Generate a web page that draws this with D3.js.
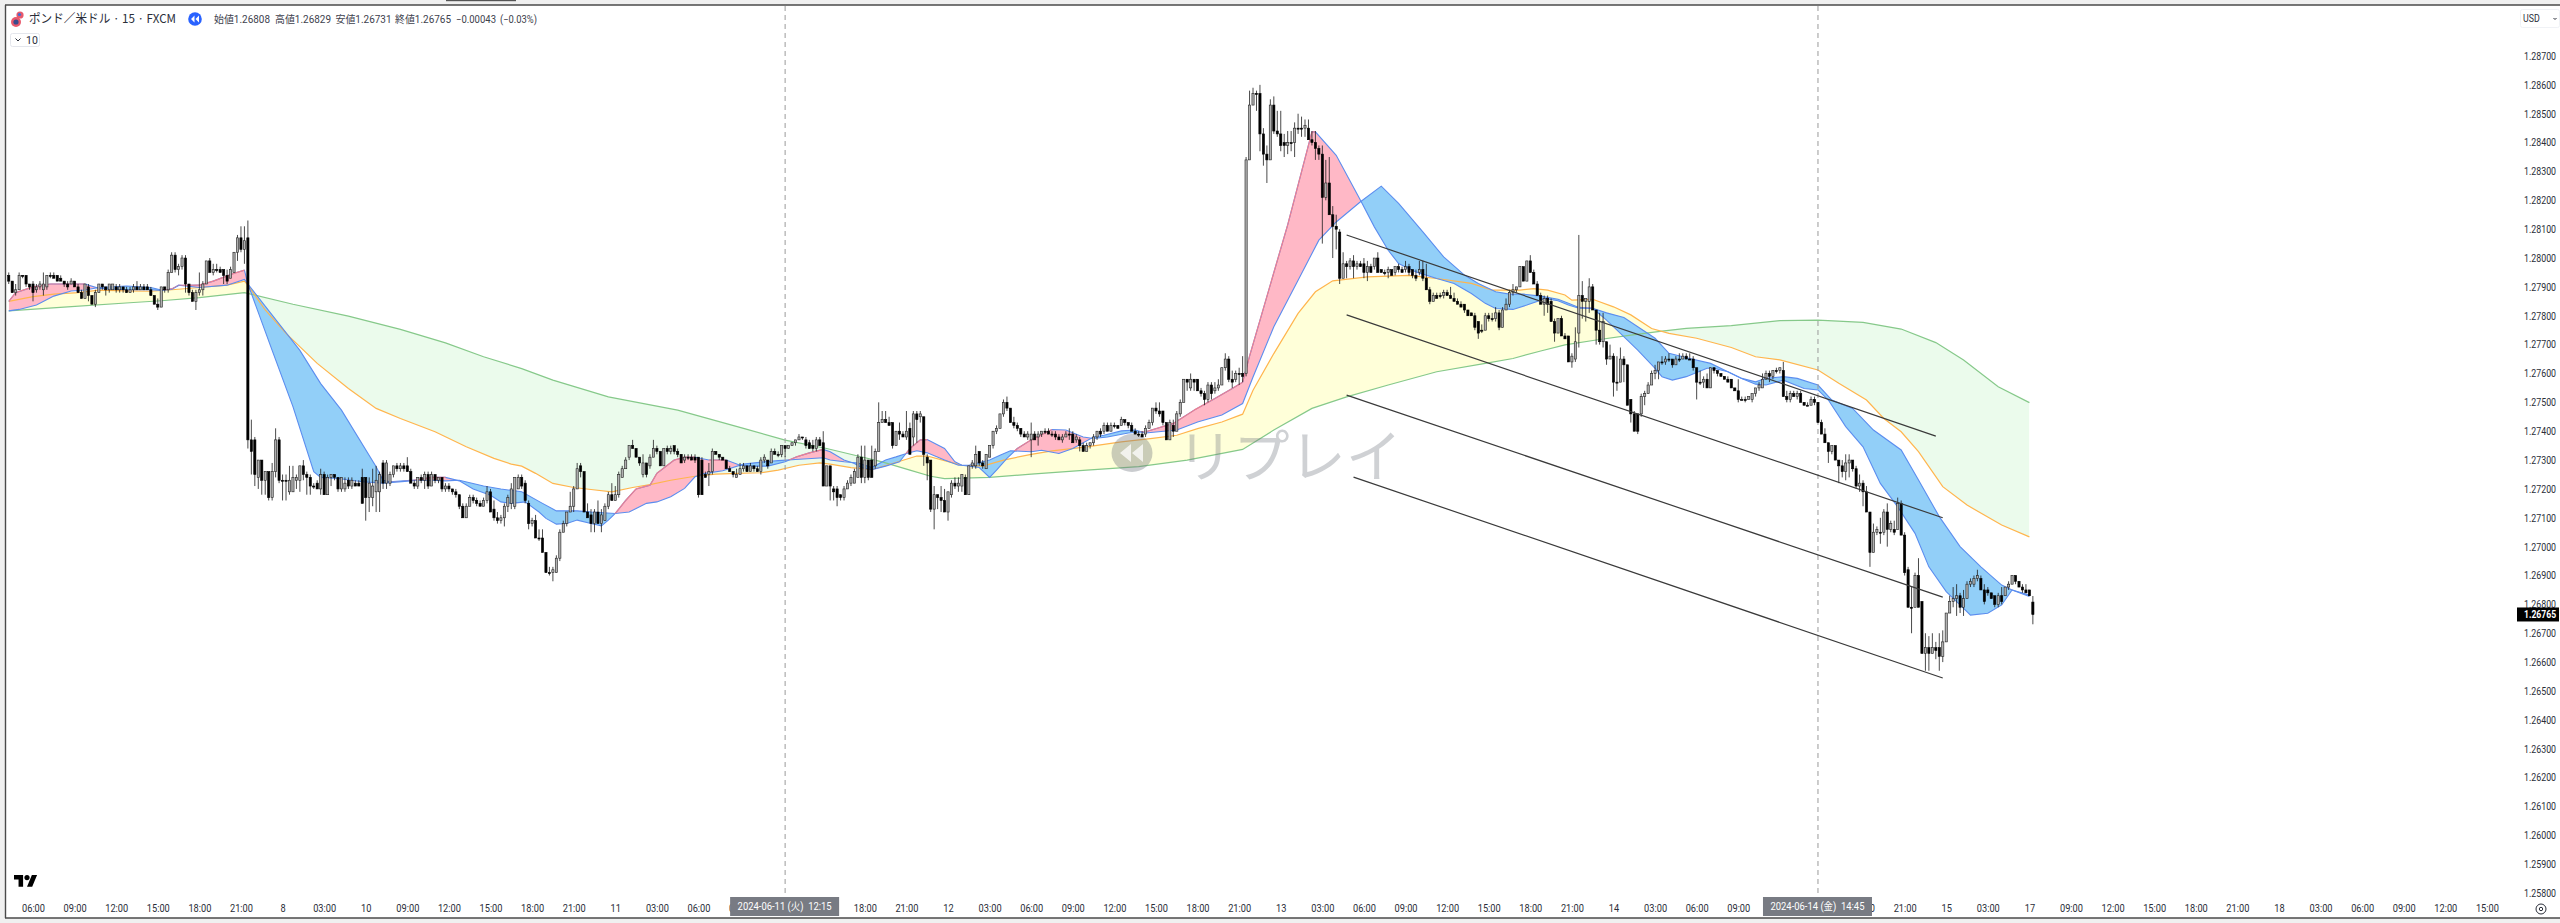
<!DOCTYPE html>
<html lang="ja"><head><meta charset="utf-8">
<script src="https://cdn.jsdelivr.net/npm/d3@7"></script>
<style>
html,body{margin:0;padding:0;background:#fff}
svg{display:block}
text{font-family:Roboto,"Noto Sans CJK JP",sans-serif;white-space:pre}
</style></head><body>
<div id="chart"></div>
<script>
// ---------- values: pips above 1.2600 (so 191 means 1.2791) ----------
const FIRST_BAR = -7;
const opens = [
194,192,188,189,194,194,191,191,189,190,189,190,194,194,194,193,192,191,191,192,
190,188,186,190,187,184,188,191,190,189,189,190,189,190,189,188,189,190,189,190,
190,189,187,184,183,190,189,195,201,196,197,200,191,188,185,188,189,191,199,195,
196,196,196,194,193,195,202,207,203,207,137,137,124,130,123,126,117,126,137,123,
123,119,119,123,123,128,125,124,121,122,120,125,118,124,125,124,120,120,123,121,
122,122,124,124,117,117,119,119,129,122,122,125,128,127,128,128,126,122,121,124,
123,125,121,125,123,124,120,121,120,119,118,114,110,114,117,116,115,114,116,119,
113,110,109,110,114,115,114,120,124,122,115,108,109,103,103,98,91,91,91,96,
105,108,112,114,120,128,126,112,111,108,112,108,109,114,118,116,118,124,127,131,
135,134,131,125,129,128,131,134,133,128,134,133,135,133,132,130,131,131,131,131,
130,125,125,126,133,132,131,130,127,126,124,125,127,128,126,128,127,126,130,130,
129,133,132,132,135,134,135,136,137,138,137,136,135,134,137,136,121,128,120,120,
118,117,120,122,122,124,131,124,130,130,128,133,143,144,143,143,135,140,139,138,
141,138,146,145,145,131,130,113,118,117,116,112,118,122,121,121,124,118,128,128,
133,129,127,131,135,140,141,146,150,148,143,142,141,139,138,137,139,138,139,140,
140,139,139,138,137,138,139,139,137,137,135,133,135,136,138,140,140,142,140,142,
142,142,144,143,142,140,139,139,139,141,143,148,147,147,143,137,142,140,146,150,
158,155,158,158,154,153,151,156,154,155,156,162,165,158,158,160,160,160,234,253,
257,257,243,236,234,253,244,243,240,239,240,240,245,245,245,245,241,240,238,236,
221,226,215,211,209,193,198,197,199,197,198,198,195,197,197,200,196,195,195,196,
195,197,196,196,197,196,194,195,196,193,189,185,187,187,187,188,187,186,185,184,
184,182,181,180,178,175,175,180,179,179,181,176,182,184,188,189,190,197,192,199,
195,191,187,184,186,185,178,174,179,173,173,164,165,174,187,185,185,190,182,175,
171,171,165,166,157,157,165,163,151,146,146,146,152,153,156,160,161,164,164,165,
165,163,165,165,166,165,165,162,157,157,158,155,162,161,160,159,158,158,155,154,
151,151,151,151,153,155,155,158,160,159,161,161,161,152,151,153,152,153,150,149,
149,151,150,143,139,136,133,135,130,128,126,129,130,127,121,122,119,112,98,105,
105,105,112,106,106,106,115,104,92,79,79,90,81,63,65,63,65,65,62,67,
77,81,82,83,79,82,87,87,89,89,85,85,84,83,80,83,83,86,87,90,88,86,85,85,80.8];
const highs = [
195,192,191,195,194,194,191,192,191,192,195,194,195,195,194,194,192,192,193,192,
191,189,191,191,187,189,191,191,190,191,191,191,191,190,190,190,191,192,191,191,
191,190,187,186,190,190,196,202,202,198,201,201,191,189,189,195,192,199,200,198,
198,197,196,196,197,202,208,211,211,213,144,138,130,130,126,126,129,141,138,125,
125,128,128,125,128,130,126,125,122,123,127,126,125,125,125,124,124,124,124,124,
123,123,127,124,124,127,128,126,130,130,126,128,129,129,129,131,127,123,124,125,
126,126,126,125,124,124,122,122,120,120,118,115,115,118,118,117,116,117,121,120,
116,112,111,115,118,122,124,125,125,123,116,110,111,106,106,98,93,93,97,106,
109,112,119,121,129,129,126,115,113,113,116,113,115,119,122,121,126,128,131,135,
137,134,131,132,129,132,137,135,133,134,135,135,135,134,132,132,132,132,132,131,
131,126,129,134,133,132,131,130,128,126,127,129,129,128,129,128,128,131,132,130,
134,134,133,135,135,135,136,137,139,138,138,137,137,138,138,140,128,128,121,121,
118,121,123,125,127,132,135,135,130,135,134,150,147,147,145,143,140,143,140,147,
143,147,147,147,145,132,130,121,118,121,120,119,123,124,124,125,125,128,130,135,
133,130,132,135,140,142,146,151,152,148,145,143,141,140,140,143,140,140,140,141,
141,140,140,139,139,140,141,140,139,138,136,136,136,139,140,141,143,143,143,143,
142,145,144,143,143,141,140,140,142,144,148,150,150,147,143,144,144,147,151,158,
158,160,158,158,155,154,157,157,157,158,162,167,166,161,161,162,166,235,258,259,
258,260,245,239,255,256,251,251,243,244,244,247,250,249,248,248,244,244,239,239,
234,235,218,215,210,202,199,200,201,199,199,200,199,198,200,202,196,196,197,196,
197,198,197,199,198,196,196,199,199,198,190,188,188,188,189,189,190,188,186,185,
184,182,181,181,178,177,181,181,181,183,182,183,186,189,191,190,197,197,199,201,
196,192,188,187,187,186,179,179,180,174,173,167,176,208,192,186,193,191,182,181,
181,171,170,167,166,169,166,163,151,147,146,153,154,157,161,163,164,166,166,167,
165,166,167,167,167,167,166,162,161,159,160,162,162,161,160,159,159,158,155,158,
152,152,152,153,155,157,160,161,161,161,162,162,164,154,154,154,154,154,150,150,
152,152,150,144,141,136,135,135,130,130,132,132,130,128,125,123,121,112,108,107,
110,113,115,109,109,117,116,105,93,86,91,96,81,70,69,70,67,70,71,77,
83,86,87,84,85,88,89,90,92,90,87,86,84,83,84,86,86,88,90,90,88,87,87,85,82.9];
const lows = [
191,188,187,189,193,190,189,185,188,189,187,189,193,193,192,192,190,189,191,190,
188,186,186,185,184,183,188,189,187,188,189,188,188,188,188,188,188,189,189,189,
189,187,184,182,183,188,188,195,195,194,196,188,187,185,182,187,187,191,195,194,
195,195,191,191,193,195,199,202,198,134,125,121,120,118,118,116,116,124,122,116,
116,118,119,120,119,123,118,118,120,120,118,118,118,121,123,119,119,119,120,120,
121,121,115,109,112,114,112,112,120,120,121,124,126,126,126,126,122,120,120,122,
120,120,121,122,122,119,119,119,118,117,113,110,110,114,115,114,114,114,115,112,
109,108,108,107,112,113,113,120,120,115,106,107,103,102,98,91,90,88,91,95,
105,107,112,112,120,124,112,110,105,105,108,105,109,113,116,116,117,124,127,130,
134,131,128,124,124,127,131,132,128,128,132,132,132,131,129,129,130,130,129,117,
118,124,121,125,132,130,130,127,126,124,124,125,126,126,126,126,126,125,129,127,
129,132,131,131,131,134,135,135,137,137,134,134,133,133,135,121,121,116,116,114,
116,116,120,121,122,124,122,122,123,124,127,133,143,143,142,134,135,137,138,137,
132,135,136,143,128,123,112,106,113,112,112,109,117,120,119,119,118,118,127,127,
128,127,127,131,134,139,141,145,147,143,141,140,138,138,137,131,137,135,138,139,
139,138,137,137,136,138,137,136,136,133,133,133,134,135,137,138,139,140,140,141,
141,142,142,141,140,139,138,138,138,141,142,146,145,142,137,137,138,140,145,150,
154,154,154,154,152,149,150,151,153,154,156,161,157,155,157,156,157,159,234,253,
251,237,232,226,234,243,242,237,235,236,237,235,243,242,242,241,239,234,234,205,
220,215,200,203,191,193,193,196,193,196,197,193,192,195,196,195,195,194,193,194,
194,195,195,195,194,193,192,194,192,189,184,185,186,186,186,187,186,185,184,183,
181,180,180,175,172,174,175,178,178,178,175,176,182,183,187,188,190,192,192,195,
191,187,184,180,181,178,171,174,173,172,164,162,164,169,179,178,181,182,170,170,
169,163,165,152,154,157,157,149,143,140,139,145,149,153,156,158,158,163,163,164,
162,163,164,165,165,165,161,151,156,155,155,155,160,159,159,158,157,155,154,150,
151,150,151,150,152,154,155,158,157,158,160,160,152,150,150,152,151,150,149,149,
149,149,143,139,136,129,132,130,122,124,123,124,126,120,119,114,112,93,98,104,
101,104,100,105,104,106,104,90,79,70,79,79,63,57,57,63,61,57,60,67,
77,79,76,77,76,82,86,86,88,85,80,83,82,79,79,80,83,85,87,87,86,84,84,83,73.1];
const closes = [
192,188,189,194,194,191,190,188,190,191,191,194,194,193,192,192,191,190,192,190,
188,186,191,187,184,188,191,190,189,191,191,189,190,189,188,189,190,189,190,189,
189,187,184,183,190,189,195,201,196,197,200,191,188,185,188,189,191,199,195,196,
196,195,194,192,196,202,207,203,206,137,133,125,130,123,126,117,126,137,123,123,
123,123,124,124,128,125,124,121,121,120,125,118,124,125,124,120,124,122,121,123,
121,121,115,117,122,121,123,125,122,129,125,128,127,128,127,126,122,121,124,123,
125,121,125,123,124,120,121,120,119,118,114,110,114,117,116,115,114,116,119,112,
110,109,110,114,117,120,124,124,121,116,108,109,103,103,98,91,91,92,96,105,
108,112,114,120,127,126,112,110,108,112,108,111,114,118,116,118,125,127,130,135,
134,131,129,129,125,131,134,133,128,134,133,134,133,132,129,131,131,130,130,118,
118,124,126,133,132,131,130,127,126,125,125,127,128,126,128,127,126,130,131,128,
133,132,132,135,134,135,136,137,138,138,135,134,134,137,135,121,128,121,119,117,
117,120,122,124,126,131,124,130,124,124,133,143,144,143,142,135,140,139,138,140,
132,146,144,146,132,129,113,118,117,116,112,119,122,121,122,125,118,128,129,132,
129,128,132,135,140,141,146,150,148,143,142,141,139,138,139,139,137,139,140,140,
139,139,138,137,138,139,139,136,138,135,133,135,136,138,140,139,142,140,142,142,
141,144,143,142,140,139,139,138,141,143,148,147,146,143,137,143,140,146,150,158,
157,158,157,154,153,151,156,153,155,156,162,165,158,157,160,160,159,234,253,257,
257,243,236,234,253,244,243,239,239,240,240,245,245,245,246,241,240,238,236,221,
226,215,211,210,193,198,197,199,197,198,197,195,197,195,200,195,195,195,196,194,
197,196,195,197,195,194,193,196,193,189,185,187,186,187,188,187,186,185,184,183,
182,180,180,176,174,175,180,179,179,181,176,182,184,188,189,190,197,192,199,195,
191,187,184,186,184,178,174,179,173,172,164,166,171,187,185,186,190,182,175,171,
178,165,166,157,157,165,163,149,146,140,140,152,153,156,160,161,164,164,165,165,
163,165,165,166,165,165,162,157,157,158,155,162,161,160,159,158,157,155,154,151,
151,151,152,153,155,156,158,160,159,161,161,162,152,151,153,152,153,150,149,149,
151,150,143,139,136,133,135,130,128,126,129,130,127,121,122,119,112,98,105,106,
105,112,106,108,105,115,104,91,79,79,90,79,63,65,63,65,64,62,67,77,
81,82,83,79,82,87,88,89,90,85,81,84,82,80,83,81,86,87,90,88,86,85,84,83,76.5];

const fastBars = [-7,-5,0,5,13,15,19,27,34,37,40,42,48,52,58,61,62,69,75,81,83,88,95,101,109,115,119,123,127,132,135,138,142,146,148,151,154,157,161,164,166,168,171,174,178,180,185,188,191,195,200,204,207,212,217,220,224,228,230,234,237,239,242,246,250,253,256,258,263,266,268,273,276,278,281,284,288,294,298,303,306,310,316,321,329,335,341,346,349,351,362,369,370,376,383,387,391,394,399,405,410,415,419,422,427,431,435,436,440,443,446,450,454,458,463,468,470,473,477,483,485,489,493,497,500,505,511,515,518,523,528,533,538,543,547,552,556,559,564,568,571,576];
const fastVals = [185,188,190,191,191,191,189.5,189,189,188.8,189.3,190.5,190.6,192,194.7,195.8,191,168,148.5,126,124,123.6,122.5,122,122.8,124,124,122.8,120,117.8,115.5,115,115.5,112,109.8,107.8,108,109.2,108,107.2,109.2,111.5,116,120,121.3,125.4,130,131,131,130,130,128.2,127.9,127.9,129.4,131,132.5,133.7,132.9,130,128.8,127.4,126.7,127.9,129.4,134,137,137.1,134,129.4,128.2,127.4,124,126.5,130.6,134,137,140.6,140.4,138,137.5,138,139.4,139.8,142.7,147.3,151.3,154.8,157,166,211.5,243.7,243.7,235.6,220,210.8,202.7,198.1,195.2,192.9,191.2,187.7,184.3,182.5,182.2,183.7,185.4,186,185.2,183.7,182.6,182.6,178.5,173.9,168.1,161.8,158.9,157.7,158.9,161.8,161.8,160.6,158.3,156.3,156,157.7,154.8,154.3,150.8,141.6,134.6,121.9,113.8,104.6,93,84.4,79.8,76.3,76.9,79.8,85,82.7];
const slowBars = [-7,-4,1,6,11,15,19,27,34,37,40,42,48,56,61,62,77,83,89,99,101,103,109,115,119,123,130,135,141,147,151,157,161,168,172,177,180,184,188,191,194,199,205,211,215,220,228,230,234,238,240,242,246,249,252,255,258,263,267,270,276,279,282,288,291,296,300,306,309,314,318,321,330,336,343,349,352,358,365,371,376,383,389,394,401,407,413,417,422,426,430,435,440,443,446,450,454,459,463,468,472,478,484,489,493,497,500,505,509,515,519,525,531,539,544,550,556,562,568,571,576];
const slowVals = [181.7,182.2,183.7,186.8,188.6,188.9,189.8,190.3,189.8,188.9,189.1,190.6,189.8,190.6,192.6,191,168,156.5,147.3,127.7,123,122.5,123,123,122.8,123,121,120,119,115,112.4,112.4,112,111.5,112,115,115.5,117.3,120.2,124.2,125.4,126.3,128.6,129.4,129.8,130.2,130.8,130,129.4,129,128.2,127.4,130,131.1,132.3,133.2,132.5,130,128.2,128.2,130,131.7,133.2,132.9,133.4,132.3,134,138,138.6,140.1,140.4,139.4,140.4,143.2,145.6,149.6,158.8,176.2,192.3,206.2,212.5,219.5,224.9,218.9,209.1,200.4,194.1,191.2,188.3,187.5,187.5,186.8,185.7,184.3,182.9,182.6,181,179.4,176.2,172.2,167,165.2,163.5,160.6,158.3,157.1,158.3,158.9,158.3,156,150.8,147.9,140.4,133.5,123.1,110.4,100,93,86.7,85,83.2];
const orangeBars = [-7,0,6,13,19,27,34,41,48,56,61,62,67,73,82,91,99,106,116,125,133,138,141,145,150,156,161,167,173,178,184,191,197,203,210,215,221,227,230,236,242,248,255,258,263,268,274,280,288,294,304,314,323,330,336,343,349,352,358,365,370,375,385,397,405,415,421,429,433,437,442,444,450,456,461,467,472,480,490,497,504,515,521,529,534,539,544,551,558,568,576];
const orangeVals = [185,186.6,187.5,188,188.9,188.6,188.5,189.1,189.8,190.6,192,190.6,182,173.9,163.5,154.8,147.9,144.4,139.8,134.6,130.6,128.6,127.9,125.4,121.9,120.5,119.8,119,120.5,121.5,123,124.4,125.1,125.4,125.6,126.5,128.2,129,128.6,127.4,126.7,128.8,131.4,131.4,129.8,128.2,127.9,130,132,133.2,134.6,136.3,137.5,138.6,140.9,143.2,145.9,154.2,166.9,180.8,188.3,192.1,193.5,194,192.9,191.2,188.9,188.9,189.4,188.9,187.2,185.4,185.7,183.1,180.3,175.6,173.9,172.2,169,165.8,164.7,161.2,156.6,150.8,144.4,139.8,132.9,120.8,114.4,107.5,103.4];
const greenBars = [-7,10,29,37,48,61,75,91,106,119,130,141,150,166,186,205,217,229,238,245,253,259,263,276,288,304,319,333,349,358,369,379,391,405,419,427,435,442,451,461,470,477,490,504,515,528,539,549,557,567,576];
const greenVals = [181.7,183.1,184.6,185.2,186.3,188,184,179.9,175.3,170.6,165.8,161.7,157.7,151.9,147.3,141,136.9,134,131.4,129.4,126.5,124.4,123.6,124,125.1,126.5,127.7,130,133.7,140.4,147.9,151.9,156,160.6,163.5,165.2,167.8,169.9,171.6,173.3,174.7,175.6,176.6,178.3,178.5,177.7,175.4,170.7,164.7,155.4,149.9];

const channelStartBars = [379,379,379,381];
const channelEndBars   = [549,551,551,551];
const channelStartVals = [208,180.3,152.5,124.1];
const channelEndVals   = [138.3,110,82.5,54.5];

const priceTicks = [1.287,1.286,1.285,1.284,1.283,1.282,1.281,1.28,1.279,1.278,1.277,1.276,1.275,1.274,1.273,1.272,1.271,1.27,1.269,1.268,1.267,1.266,1.265,1.264,1.263,1.262,1.261,1.26,1.259,1.258];
// blank entries sit fully behind the crosshair date labels
const timeLabels = ["06:00","09:00","12:00","15:00","18:00","21:00","8","03:00","10","09:00","12:00","15:00","18:00","21:00","11","03:00","06:00","09:00","","","18:00","21:00","12","03:00","06:00","09:00","12:00","15:00","18:00","21:00","13","03:00","06:00","09:00","12:00","15:00","18:00","21:00","14","03:00","06:00","09:00","","","18:00","21:00","15","03:00","17","09:00","12:00","15:00","18:00","21:00","18","03:00","06:00","09:00","12:00","15:00"];
const crossBars = [217,515];
const crossLabels = ["2024-06-11 (火)  12:15","2024-06-14 (金)  14:45"];
const legendNames = ["始値","高値","安値","終値"];
const legendVals = ["1.26808","1.26829","1.26731","1.26765"];
const lastPrice = 1.26765;

// ---------- scales ----------
const W=2560,H=923;
const pipToPrice = v => 1.26 + v/10000;
const x = d3.scaleLinear().domain([0,576]).range([33,2029.4]);
const y = d3.scaleLinear().domain([1.287,1.258]).range([56,893]);
const yp = v => y(pipToPrice(v));

const svg = d3.select("#chart").append("svg").attr("width",W).attr("height",H).attr("viewBox",`0 0 ${W} ${H}`);
const defs = svg.append("defs");

// ---------- frame ----------
svg.append("rect").attr("width",W).attr("height",H).attr("fill","#f0f0f0");
svg.append("rect").attr("x",5).attr("y",5).attr("width",W-5).attr("height",913).attr("fill","#fff");
svg.append("rect").attr("x",446).attr("y",0).attr("width",70).attr("height",1.2).attr("fill","#555");
const frame = svg.append("g").attr("stroke","#4a4a4a").attr("stroke-width",1.4);
frame.append("line").attr("x1",5).attr("x2",W).attr("y1",5).attr("y2",5);
frame.append("line").attr("x1",5.5).attr("x2",5.5).attr("y1",5).attr("y2",918);
frame.append("line").attr("x1",5).attr("x2",W).attr("y1",918).attr("y2",918);

// ---------- ribbons ----------
const pts = (bars,vals)=>bars.map((b,i)=>({b,v:vals[i]}));
const fast=pts(fastBars,fastVals), slow=pts(slowBars,slowVals), orange=pts(orangeBars,orangeVals), green=pts(greenBars,greenVals);
const lineGen = d3.line().x(d=>x(d.b)).y(d=>yp(d.v));
const TOP=0,BOT=H;
const above = d3.area().x(d=>x(d.b)).y0(TOP).y1(d=>yp(d.v));
const below = d3.area().x(d=>x(d.b)).y0(BOT).y1(d=>yp(d.v));

function clip(id,path){defs.append("clipPath").attr("id",id).append("path").attr("d",path);}
clip("aboveSlow",above(slow)); clip("belowSlow",below(slow));
clip("aboveGreen",above(green)); clip("belowGreen",below(green));

const chart = svg.append("g");
// orange above green: yellow; green above orange: pale green
chart.append("path").attr("d",below(orange)).attr("clip-path","url(#aboveGreen)").attr("fill","#ffffd9");
chart.append("path").attr("d",above(orange)).attr("clip-path","url(#belowGreen)").attr("fill","#ebfbec");
// fast above slow: pink; fast below slow: blue
chart.append("path").attr("d",below(fast)).attr("clip-path","url(#aboveSlow)").attr("fill","#ffb8c6");
chart.append("path").attr("d",above(fast)).attr("clip-path","url(#belowSlow)").attr("fill","#92cff8");

chart.append("path").attr("d",lineGen(green)).attr("fill","none").attr("stroke","#86c98a").attr("stroke-width",1.2);
chart.append("path").attr("d",lineGen(orange)).attr("fill","none").attr("stroke","#ffb54d").attr("stroke-width",1.2);
chart.append("path").attr("d",lineGen(slow)).attr("fill","none").attr("stroke","#5b8def").attr("stroke-width",1.1);
chart.append("path").attr("d",lineGen(fast)).attr("fill","none").attr("stroke","#5b8def").attr("stroke-width",1.1);
// rising stretches of the fast line over the pink fill are red
const rising = d3.pairs(fast).filter(([a,b])=>b.v>=a.v);
chart.append("g").attr("clip-path","url(#aboveSlow)").selectAll("path").data(rising).join("path")
  .attr("d",d=>lineGen(d)).attr("fill","none").attr("stroke","#ef7f8f").attr("stroke-width",1.2);

// ---------- cross lines ----------
svg.append("g").selectAll("line").data(crossBars).join("line")
  .attr("x1",d=>x(d)).attr("x2",d=>x(d)).attr("y1",6).attr("y2",897)
  .attr("stroke","#9a9a9a").attr("stroke-width",1).attr("stroke-dasharray","5 4");

// ---------- replay watermark ----------
const wm = svg.append("g");
wm.append("ellipse").attr("cx",1132).attr("cy",453).attr("rx",20.5).attr("ry",19).attr("fill","rgba(115,120,130,0.38)");
wm.append("path").attr("d","M1131 444 L1120 453 L1131 462 Z M1143 444 L1132 453 L1143 462 Z").attr("fill","#fff").attr("fill-opacity",0.75);
wm.append("text").text("リプレイ").attr("x",1177).attr("y",477).attr("textLength",225).attr("lengthAdjust","spacingAndGlyphs")
  .style("font-family",'"Noto Sans CJK JP"').style("font-size","57px").style("font-weight",400).attr("fill","rgba(115,120,130,0.34)");

// ---------- candles ----------
const bars = opens.map((o,i)=>({bar:FIRST_BAR+i,o,h:highs[i],l:lows[i],c:closes[i]}));
const candle = svg.append("g").selectAll("g").data(bars).join("g");
candle.append("line").attr("x1",d=>x(d.bar)).attr("x2",d=>x(d.bar))
  .attr("y1",d=>yp(d.h)).attr("y2",d=>yp(d.l)).attr("stroke","#1c1c1c").attr("stroke-width",0.8);
candle.append("rect")
  .attr("x",d=>x(d.bar)-1.1).attr("width",2.2)
  .attr("y",d=>yp(Math.max(d.o,d.c)))
  .attr("height",d=>Math.max(1,Math.abs(yp(d.o)-yp(d.c))))
  .attr("fill",d=>d.c>d.o?"#b0b0b0":"#000").attr("stroke",d=>d.c>d.o?"#222":"#000").attr("stroke-width",0.6);

// ---------- channel lines ----------
svg.append("g").selectAll("line").data(channelStartBars).join("line")
  .attr("x1",d=>x(d)).attr("y1",(d,i)=>yp(channelStartVals[i]))
  .attr("x2",(d,i)=>x(channelEndBars[i])).attr("y2",(d,i)=>yp(channelEndVals[i]))
  .attr("stroke","#3a3a3a").attr("stroke-width",1.2);

// ---------- axes ----------
const timeBars = timeLabels.map((_,k)=>k*12);
const xAxis = d3.axisBottom(x).tickValues(timeBars).tickFormat((d,i)=>timeLabels[i]).tickSize(0).tickPadding(6);
const gx = svg.append("g").attr("transform","translate(0,899)").call(xAxis);
gx.select(".domain").remove();
gx.selectAll("text").style("font-size","10.5px").attr("fill","#2a2e39").attr("transform","scale(0.88,1)");

const yAxis = d3.axisRight(y).tickValues(priceTicks).tickFormat(d3.format(".5f")).tickSize(0).tickPadding(0);
const gy = svg.append("g").attr("transform","translate(2524,0)").call(yAxis);
gy.select(".domain").remove();
gy.selectAll("text").style("font-size","10.5px").attr("fill","#2a2e39").attr("transform","scale(0.84,1)");

// last price tag
svg.append("rect").attr("x",2517).attr("y",y(lastPrice)-7).attr("width",42).attr("height",14).attr("fill","#000");
svg.append("text").text(lastPrice.toFixed(5)).attr("transform",`translate(2524,${y(lastPrice)+3.7}) scale(0.82,1)`)
  .attr("fill","#fff").style("font-size","10.5px").style("font-weight",700);

// cross labels
const cl = svg.append("g").selectAll("g").data(crossBars).join("g").attr("transform",d=>`translate(${x(d)},897)`);
cl.append("rect").attr("x",-55).attr("y",0).attr("width",109).attr("height",19).attr("fill","#787b83");
cl.append("text").text((d,i)=>crossLabels[i]).attr("x",-0.5).attr("y",13).attr("text-anchor","middle")
  .attr("textLength",94).attr("lengthAdjust","spacingAndGlyphs").attr("fill","#fff").style("font-size","10.5px");

// ---------- header ----------
const hd = svg.append("g");
hd.append("circle").attr("cx",16).attr("cy",22).attr("r",5).attr("fill","#e8596c");
hd.append("circle").attr("cx",16).attr("cy",22).attr("r",2.6).attr("fill","#3a4a8c");
hd.append("circle").attr("cx",20).attr("cy",15).attr("r",3.6).attr("fill","#e8596c");
hd.append("circle").attr("cx",19.5).attr("cy",14.5).attr("r",1.6).attr("fill","#3a6fd8");
hd.append("text").text("ポンド／米ドル · 15 · FXCM").attr("x",29).attr("y",23).attr("textLength",147).attr("lengthAdjust","spacingAndGlyphs")
  .attr("fill","#2a2e39").style("font-family",'"Noto Sans CJK JP"').style("font-size","12px");
hd.append("circle").attr("cx",195).attr("cy",19).attr("r",6.8).attr("fill","#2962ff");
hd.append("path").attr("d","M194.5 15.5 L191 19 L194.5 22.5 Z M199 15.5 L195.5 19 L199 22.5 Z").attr("fill","#fff");
const legendXs = [214,275,335.5,395];
const lg = hd.append("g").style("font-size","10.5px").attr("fill","#3d414d");
lg.selectAll("text.lv").data(legendNames).join("text").attr("class","lv")
  .attr("x",(d,i)=>legendXs[i]).attr("y",23).attr("textLength",56).attr("lengthAdjust","spacingAndGlyphs")
  .text((d,i)=>d+legendVals[i]).style("font-family",'Roboto,"Noto Sans CJK JP"');
lg.append("text").text("−0.00043").attr("x",456).attr("y",23).attr("textLength",40).attr("lengthAdjust","spacingAndGlyphs");
lg.append("text").text("(−0.03%)").attr("x",500).attr("y",23).attr("textLength",37).attr("lengthAdjust","spacingAndGlyphs");

// collapse button
hd.append("rect").attr("x",10.5).attr("y",33.5).attr("width",29).attr("height",13).attr("rx",2).attr("fill","#fff").attr("stroke","#e4e6ec");
hd.append("path").attr("d","M15.5 38.5 L18 41 L20.5 38.5").attr("fill","none").attr("stroke","#2a2e39");
hd.append("text").text("10").attr("x",26).attr("y",43.5).attr("fill","#2a2e39").style("font-size","10.5px");

// currency button
hd.append("rect").attr("x",2520.5).attr("y",9.5).attr("width",39).attr("height",18).attr("rx",2).attr("fill","#fff").attr("stroke","#f0f2f6");
hd.append("text").text("USD").attr("transform","translate(2523,22) scale(0.84,1)").attr("fill","#2a2e39").style("font-size","10.5px");
hd.append("path").attr("d","M2553.5 18 L2555 19.5 L2556.5 18").attr("fill","none").attr("stroke","#2a2e39");

// settings icon
hd.append("circle").attr("cx",2541).attr("cy",909).attr("r",5).attr("fill","none").attr("stroke","#2a2e39");
hd.append("circle").attr("cx",2541).attr("cy",909).attr("r",1.7).attr("fill","none").attr("stroke","#2a2e39");

// logo
hd.append("path").attr("transform","translate(14,872.4) scale(0.65)")
  .attr("d","M14 22H7V11H0V4h14v18zM28 22h-8l7.5-18h8L28 22z").attr("fill","#000");
hd.append("circle").attr("cx",14+20*0.65).attr("cy",872.4+8*0.65).attr("r",2.6).attr("fill","#000");
</script>
</body></html>
